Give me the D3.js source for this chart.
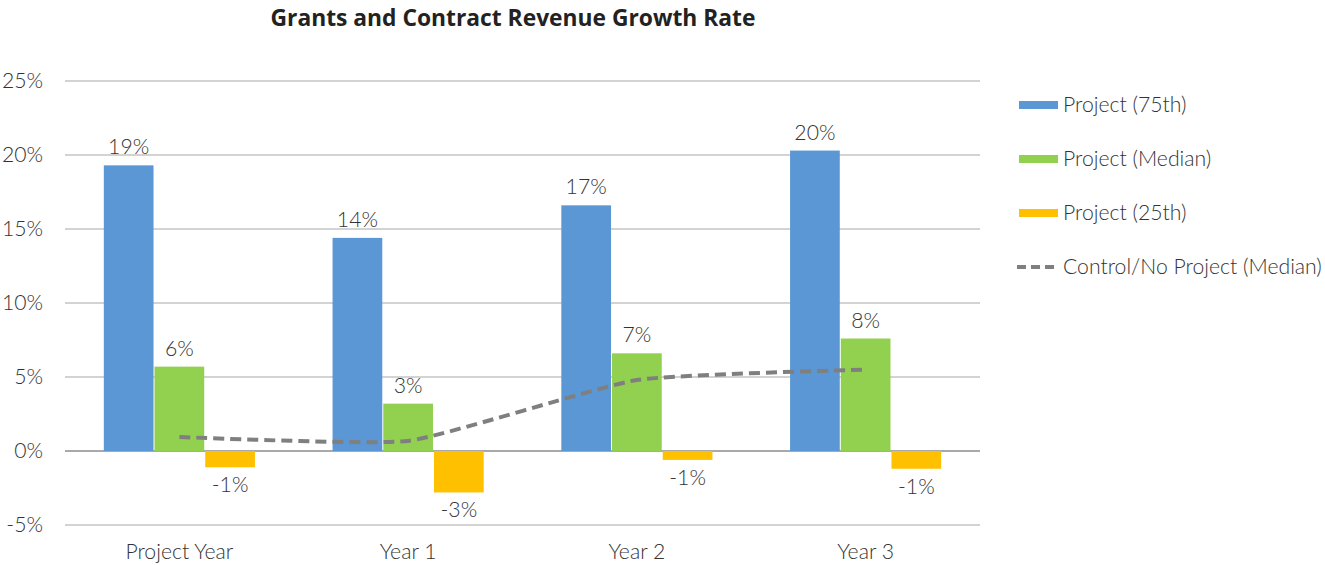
<!DOCTYPE html>
<html><head><meta charset="utf-8">
<script src="https://cdn.jsdelivr.net/npm/d3@7"></script>
<style>
body{margin:0;background:#fff;}
text{font-family:"Lato","Open Sans",sans-serif;}
</style></head>
<body><svg id="c" width="1325" height="565"></svg>
<script>
const categories = ["Project Year","Year 1","Year 2","Year 3"];
const seriesNames = ["Project (75th)","Project (Median)","Project (25th)"];
const p75 = [19.3, 14.4, 16.6, 20.3];
const pMedian = [5.7, 3.2, 6.6, 7.6];
const p25 = [-1.1, -2.8, -0.6, -1.2];
const control = [0.95, 0.68, 4.8, 5.5];
const lineName = "Control/No Project (Median)";
const yTicks = [-5,0,5,10,15,20,25];
const colors = ["#5b97d5","#92d050","#ffc000"];

const svg = d3.select("#c");
const L=65,R=980,T=81,B=525;
const FS=21.2, TXT="#333333";
const y = d3.scaleLinear().domain([-5,25]).range([B,T]);
const x = d3.scaleBand().domain(categories).range([L,R]).paddingInner(0.335).paddingOuter(0.1675);
const xs = d3.scaleBand().domain([0,1,2]).range([0,x.bandwidth()]);

svg.append("text").attr("x",513).attr("y",26).attr("text-anchor","middle")
  .attr("font-size",22.8).attr("font-weight",700).attr("fill","#222")
  .style("font-family","'Open Sans',sans-serif")
  .text("Grants and Contract Revenue Growth Rate");

// grid
svg.append("g").selectAll("line").data(yTicks).join("line")
  .attr("x1",L).attr("x2",R).attr("y1",d=>y(d)).attr("y2",d=>y(d))
  .attr("stroke",d=>d===0?"#8c8c8c":"#c4c4c4").attr("stroke-width",1.3);
svg.append("g").selectAll("text").data(yTicks).join("text")
  .attr("x",43).attr("y",d=>y(d)+7).attr("text-anchor","end")
  .attr("font-size",FS).attr("font-weight",300).attr("fill",TXT)
  .text(d=>d+"%");

const all=[p75,pMedian,p25];
all.forEach((vals,si)=>{
  const g=svg.append("g");
  g.selectAll("rect").data(vals).join("rect")
    .attr("x",(d,i)=>x(categories[i])+xs(si)+0.5)
    .attr("width",xs.bandwidth()-1)
    .attr("y",d=>y(Math.max(0,d)))
    .attr("height",d=>Math.abs(y(d)-y(0)))
    .attr("fill",colors[si]);
  g.selectAll("text").data(vals).join("text")
    .attr("x",(d,i)=>x(categories[i])+xs(si)+xs.bandwidth()/2)
    .attr("y",d=>d>=0?y(d)-11:y(d)+25)
    .attr("text-anchor","middle").attr("font-size",FS).attr("font-weight",300).attr("fill",TXT)
    .text(d=>Math.round(d)+"%");
});

const line=d3.line().x((d,i)=>x(categories[i])+x.bandwidth()/2).y(d=>y(d)).curve(d3.curveCardinal.tension(0.55));
svg.append("path").datum(control).attr("d",line).attr("fill","none")
  .attr("stroke","#7f7f7f").attr("stroke-width",4).attr("stroke-dasharray","11,6");

svg.append("g").selectAll("text").data(categories).join("text")
  .attr("x",d=>x(d)+x.bandwidth()/2).attr("y",559).attr("text-anchor","middle")
  .attr("font-size",FS).attr("font-weight",300).attr("fill",TXT).text(d=>d);

// legend
const leg=svg.append("g");
const legY=[105,159,213,267];
seriesNames.forEach((n,i)=>{
  leg.append("rect").attr("x",1019).attr("y",legY[i]-4).attr("width",39).attr("height",8).attr("fill",colors[i]);
  leg.append("text").attr("x",1063).attr("y",legY[i]+7).attr("font-size",FS).attr("font-weight",300).attr("fill",TXT).text(n);
});
leg.append("line").attr("x1",1017).attr("x2",1058).attr("y1",legY[3]).attr("y2",legY[3])
  .attr("stroke","#7f7f7f").attr("stroke-width",4).attr("stroke-dasharray","9,5");
leg.append("text").attr("x",1063).attr("y",legY[3]+7).attr("font-size",FS).attr("font-weight",300).attr("fill",TXT).text(lineName);
</script></body></html>
